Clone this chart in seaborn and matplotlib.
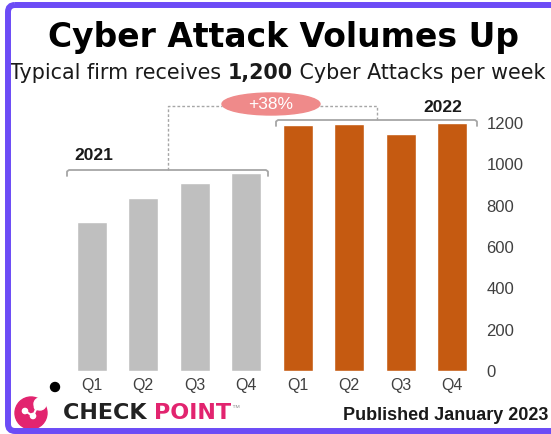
import pandas as pd
import matplotlib
matplotlib.use('Agg')
import matplotlib.pyplot as plt
import seaborn as sns
from matplotlib.patches import Ellipse, FancyBboxPatch, Circle
from matplotlib.lines import Line2D

# --- data ---
quarters = ['Q1', 'Q2', 'Q3', 'Q4', 'Q1', 'Q2', 'Q3', 'Q4']
years = ['2021'] * 4 + ['2022'] * 4
attacks = [721, 837, 909, 958, 1190, 1195, 1147, 1200]
y_ticks = [0, 200, 400, 600, 800, 1000, 1200]
bar_colors = {'2021': '#bfbfbf', '2022': '#c55a11'}

df = pd.DataFrame({'period': [f'{y} {q}' for y, q in zip(years, quarters)],
                   'year': years, 'attacks': attacks})

sns.set_style('white')
plt.rcParams['font.family'] = ['Liberation Sans', 'DejaVu Sans']

W, H = 551, 434
fig = plt.figure(figsize=(W / 100, H / 100), dpi=100)
fig.patch.set_facecolor('white')

# --- bars ---
ax = fig.add_axes([66 / W, 1 - 371 / H, (478 - 66) / W, (371 - 123) / H])
sns.barplot(data=df, x='period', y='attacks', hue='year', palette=bar_colors,
            dodge=False, width=0.58, saturation=1, legend=False, ax=ax)
ax.set_xlim(-0.5, 7.5)
ax.set_ylim(0, 1200)
ax.set_yticks(y_ticks)
ax.yaxis.tick_right()
ax.tick_params(axis='y', length=0, pad=6, labelsize=12, labelcolor='#404040')
ax.set_xticks(range(len(quarters)))
ax.set_xticklabels(quarters)
ax.tick_params(axis='x', length=0, pad=5, labelsize=11.5, labelcolor='#404040')
ax.set_xlabel('')
ax.set_ylabel('')
sns.despine(ax=ax, left=True, bottom=True, right=True, top=True)

# --- overlay in pixel coords for annotations ---
ov = fig.add_axes([0, 0, 1, 1], zorder=5)
ov.set_xlim(0, W)
ov.set_ylim(H, 0)
ov.axis('off')
ov.patch.set_alpha(0)

fig.text(283 / W, 1 - 38 / H, 'Cyber Attack Volumes Up', ha='center', va='center',
         fontsize=23.8, fontweight='bold', family='DejaVu Sans', color='black')

t1 = ov.text(10, 73, 'Typical firm receives ', ha='left', va='center',
             fontsize=14.9, family='DejaVu Sans', color='#1a1a1a')
t2 = ov.annotate('1,200', xy=(1, 0), xycoords=t1, ha='left', va='bottom',
                 fontsize=14.9, fontweight='bold', family='DejaVu Sans', color='#1a1a1a')
ov.annotate(' Cyber Attacks per week', xy=(1, 0), xycoords=t2, ha='left', va='bottom',
            fontsize=14.9, family='DejaVu Sans', color='#1a1a1a')

gray = '#a6a6a6'


def bracket(x0, x1, y, h=6):
    xs = [x0, x0, x0 + 2, x1 - 2, x1, x1]
    ys = [y + h, y + 1.5, y, y, y + 1.5, y + h]
    ov.add_line(Line2D(xs, ys, color=gray, lw=1.3))


bracket(67, 268, 170)
bracket(276, 477, 120)
ov.add_line(Line2D([168, 168, 222], [170, 106, 106], color=gray, lw=1,
                   linestyle=(0, (2, 1.5))))
ov.add_line(Line2D([320, 377, 377], [106, 106, 120], color=gray, lw=1,
                   linestyle=(0, (2, 1.5))))
ov.add_patch(Ellipse((271, 104), 98, 22, color='#ef8a8a', zorder=6))
ov.text(271, 104.5, '+38%', ha='center', va='center', fontsize=12.5,
        color='white', zorder=7)

ov.text(94, 156, '2021', ha='center', va='center', fontsize=12.5,
        fontweight='bold', color='#1a1a1a')
ov.text(443, 107, '2022', ha='center', va='center', fontsize=12.5,
        fontweight='bold', color='#1a1a1a')

# --- footer / logo ---
ov.add_patch(Circle((55, 387), 4.5, color='black'))
ov.add_patch(Circle((31, 413), 16, color='#e2246f'))
ov.add_patch(Circle((40, 404), 6, color='white'))
ov.add_line(Line2D([25, 33, 37], [411, 416, 407], color='white', lw=1.5))
for cx, cy in [(25, 411), (33, 416), (37, 407)]:
    ov.add_patch(Circle((cx, cy), 2.6, color='white'))

c1 = ov.text(63, 413, 'CHECK ', ha='left', va='center', fontsize=16,
             fontweight='bold', family='DejaVu Sans', color='#222222')
c2 = ov.annotate('POINT', xy=(1, 0), xycoords=c1, ha='left', va='bottom',
                 fontsize=16, fontweight='bold', family='DejaVu Sans', color='#e2246f')
ov.annotate('\u2122', xy=(1, 0.55), xycoords=c2, ha='left', va='bottom',
            fontsize=6, color='#999999')

ov.text(548, 416, 'Published January 2023', ha='right', va='center',
        fontsize=13, fontweight='bold', color='#1a1a1a')

# --- border ---
ov.add_patch(FancyBboxPatch((8, 5), W + 20, 426,
                            boxstyle='round,pad=0,rounding_size=7',
                            fill=False, edgecolor='#6c4cf6', lw=4.3, zorder=8))

fig.savefig('out.png', dpi=100)
